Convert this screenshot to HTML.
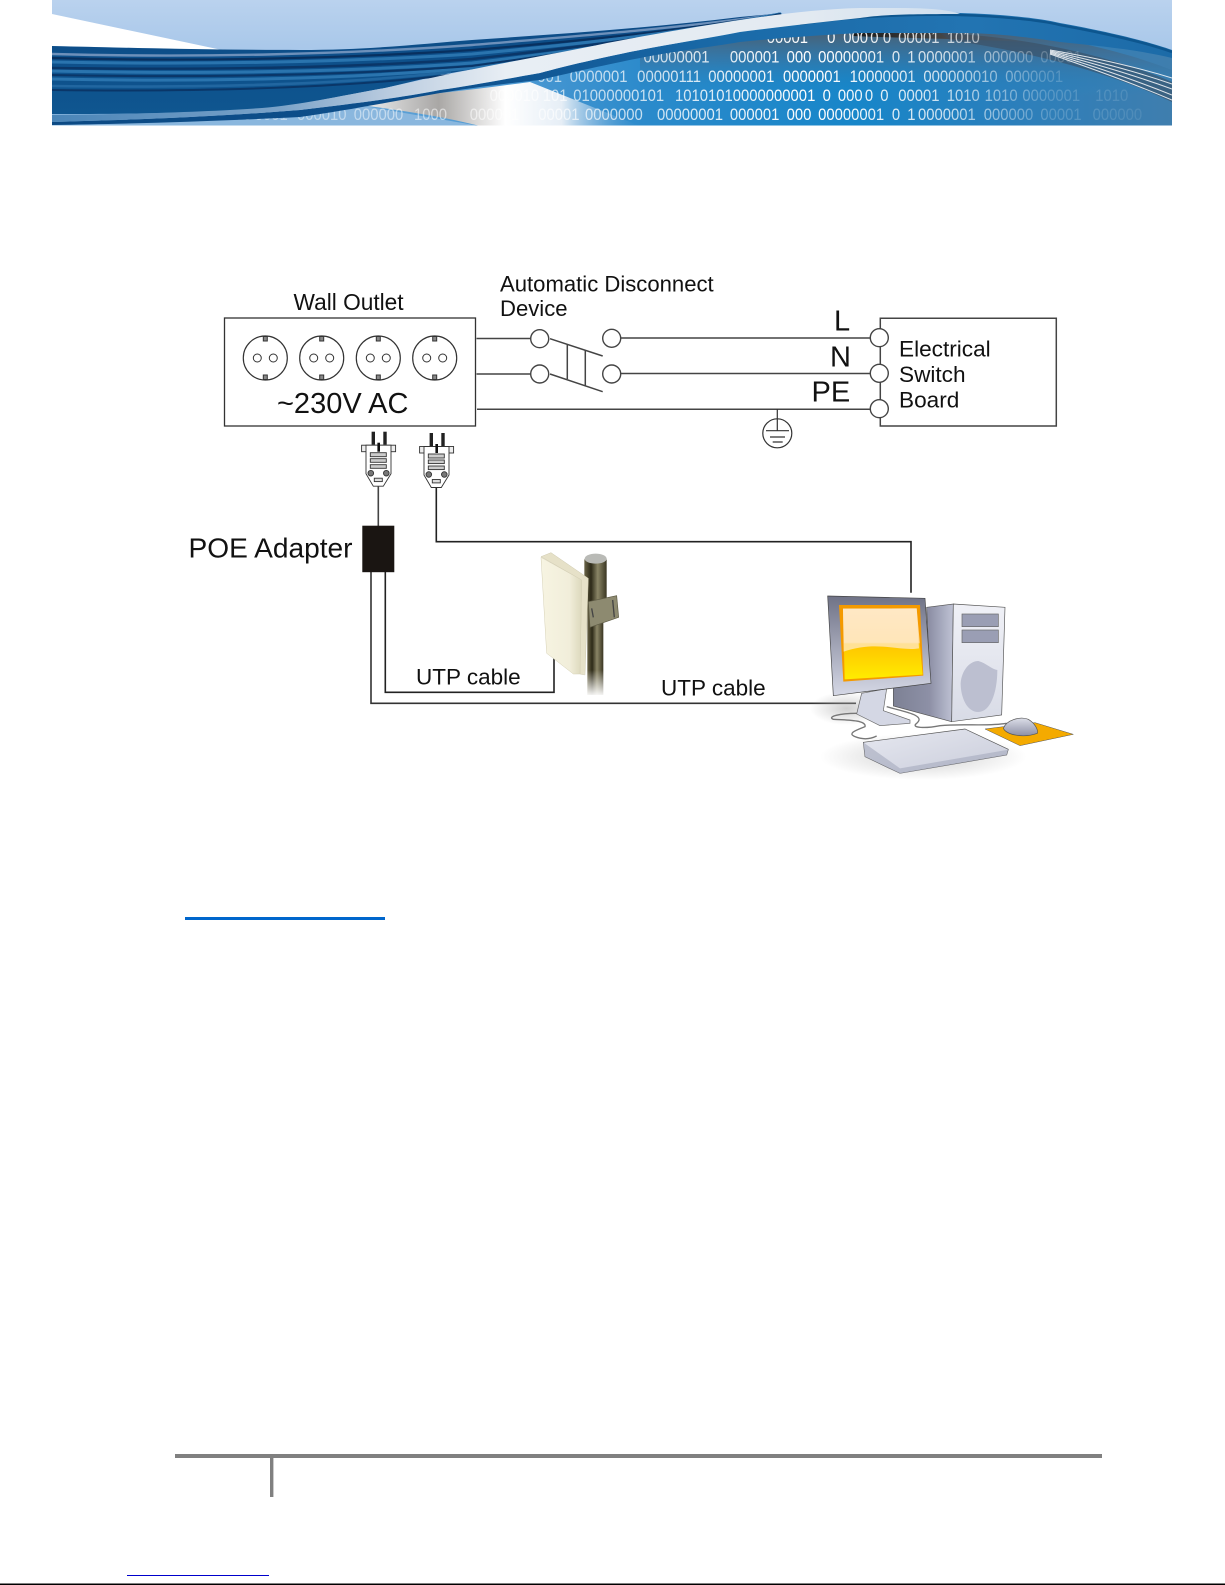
<!DOCTYPE html>
<html><head><meta charset="utf-8"><style>
html,body{margin:0;padding:0;background:#fff}
svg{display:block;position:absolute;left:0;top:0}
text{font-family:"Liberation Sans",sans-serif;fill:#111}
</style></head><body>
<svg width="1225" height="1585" viewBox="0 0 1225 1585" xmlns="http://www.w3.org/2000/svg">
<defs>
<linearGradient id="sky" x1="0" y1="0" x2="0" y2="1"><stop offset="0" stop-color="#bad2ee"/><stop offset=".45" stop-color="#a6c6e9"/><stop offset="1" stop-color="#a6c6e9"/></linearGradient>
<linearGradient id="body" gradientUnits="userSpaceOnUse" x1="52" y1="0" x2="1172" y2="0"><stop offset="0" stop-color="#85b3dc"/><stop offset=".4" stop-color="#4f9ad3"/><stop offset=".53" stop-color="#2b8acb"/><stop offset=".72" stop-color="#1786c9"/><stop offset=".85" stop-color="#2a7fbc"/><stop offset="1" stop-color="#3f7eae"/></linearGradient>
<linearGradient id="bodyv" gradientUnits="userSpaceOnUse" x1="0" y1="30" x2="0" y2="95"><stop offset="0" stop-color="#4f5c6a" stop-opacity=".95"/><stop offset=".45" stop-color="#3f6c92" stop-opacity=".55"/><stop offset="1" stop-color="#1786c9" stop-opacity="0"/></linearGradient>
<linearGradient id="blob" gradientUnits="userSpaceOnUse" x1="360" y1="0" x2="640" y2="0"><stop offset="0" stop-color="#eef0f2"/><stop offset=".28" stop-color="#a9a7a5"/><stop offset=".52" stop-color="#ffffff"/><stop offset=".72" stop-color="#e6eef6"/><stop offset="1" stop-color="#5a9fd6" stop-opacity="0"/></linearGradient>
<linearGradient id="dark" x1="0" y1="0" x2="0" y2="1"><stop offset="0" stop-color="#0c4a85"/><stop offset="1" stop-color="#0f5690"/></linearGradient>
<linearGradient id="white" gradientUnits="userSpaceOnUse" x1="52" y1="0" x2="960" y2="0"><stop offset="0" stop-color="#4a85b8"/><stop offset=".25" stop-color="#7aa2c8"/><stop offset=".37" stop-color="#b9cbdf"/><stop offset=".5" stop-color="#e8eef4"/><stop offset=".83" stop-color="#e3eaf1"/><stop offset="1" stop-color="#cfdfef"/></linearGradient>
<linearGradient id="crest" gradientUnits="userSpaceOnUse" x1="52" y1="0" x2="1172" y2="0"><stop offset="0" stop-color="#0c4a84"/><stop offset=".35" stop-color="#0d4f8c"/><stop offset=".6" stop-color="#1a6aa8"/><stop offset=".82" stop-color="#2274b2"/><stop offset="1" stop-color="#1c6ba8"/></linearGradient>
<linearGradient id="txt" gradientUnits="userSpaceOnUse" x1="255" y1="0" x2="1302" y2="0"><stop offset="0" stop-color="#fff" stop-opacity=".4"/><stop offset=".25" stop-color="#fff" stop-opacity=".55"/><stop offset=".45" stop-color="#fff" stop-opacity=".75"/><stop offset=".62" stop-color="#fff" stop-opacity="1"/><stop offset=".76" stop-color="#fff" stop-opacity=".75"/><stop offset=".87" stop-color="#fff" stop-opacity=".2"/><stop offset="1" stop-color="#fff" stop-opacity=".06"/></linearGradient>
<linearGradient id="streak" x1="0" y1="0" x2="1" y2="0"><stop offset="0" stop-color="#1b1b1b"/><stop offset=".5" stop-color="#444"/><stop offset="1" stop-color="#777" stop-opacity=".1"/></linearGradient>
<clipPath id="hclip"><rect x="52" y="0" width="1120" height="125.5"/></clipPath>

<linearGradient id="frame" x1="0" y1="0" x2="0" y2="1"><stop offset="0" stop-color="#6f7286"/><stop offset="1" stop-color="#d5d8e6"/></linearGradient>
<linearGradient id="scr" x1="0" y1="0" x2="0" y2="1"><stop offset="0" stop-color="#ffe2bb"/><stop offset=".48" stop-color="#ffd98a"/><stop offset=".5" stop-color="#ffc400"/><stop offset="1" stop-color="#ffec00"/></linearGradient>
<linearGradient id="front" x1="0" y1="0" x2="0" y2="1"><stop offset="0" stop-color="#f0f1f7"/><stop offset="1" stop-color="#d8dbe6"/></linearGradient>
<linearGradient id="side" x1="0" y1="0" x2="1" y2="0"><stop offset="0" stop-color="#7d8194"/><stop offset=".6" stop-color="#8d90a6"/><stop offset="1" stop-color="#bfc2d4"/></linearGradient>
<linearGradient id="kb" x1="0" y1="0" x2="1" y2="1"><stop offset="0" stop-color="#e6e8f0"/><stop offset="1" stop-color="#c9ccda"/></linearGradient>
<linearGradient id="ms" x1="0" y1="0" x2="0" y2="1"><stop offset="0" stop-color="#dcdee8"/><stop offset="1" stop-color="#8d90a6"/></linearGradient>
<radialGradient id="shade"><stop offset="0" stop-color="#aaa" stop-opacity=".55"/><stop offset="1" stop-color="#aaa" stop-opacity="0"/></radialGradient>

<linearGradient id="pole" x1="0" y1="0" x2="1" y2="0"><stop offset="0" stop-color="#6b6548"/><stop offset=".3" stop-color="#2d2a18"/><stop offset=".6" stop-color="#8a8566"/><stop offset="1" stop-color="#3a3622"/></linearGradient>
<linearGradient id="panel" x1="0" y1="0" x2="1" y2="0"><stop offset="0" stop-color="#f7f4e2"/><stop offset=".7" stop-color="#f1eeda"/><stop offset="1" stop-color="#dcd8bc"/></linearGradient>
<linearGradient id="fade" x1="0" y1="0" x2="0" y2="1"><stop offset="0" stop-color="#fff" stop-opacity="0"/><stop offset="1" stop-color="#fff"/></linearGradient>

<g id="plug" fill="none" stroke="#333" stroke-width=".9">
<rect x="-6.7" y="0" width="3.4" height="13" fill="#222" stroke="none"/>
<rect x="5" y="0" width="3.4" height="13" fill="#222" stroke="none"/>
<rect x="-16.7" y="13.5" width="34" height="6.5" fill="#eee"/>
<path d="M-12.3 13.5H12.7V42L5 54.5H-5L-12.3 42Z" fill="#fff"/>
<rect x="-.9" y="11" width="2.6" height="9" fill="#111" stroke="none"/>
<rect x="-8" y="21" width="16" height="4" fill="#ccc"/><rect x="-8" y="27" width="16" height="3.6" fill="#ccc"/><rect x="-8" y="33" width="16" height="3.6" fill="#ccc"/>
<circle cx="-7.5" cy="41.5" r="2.8" fill="#777"/><circle cx="8" cy="41.5" r="2.8" fill="#777"/>
<rect x="-4" y="46.5" width="8" height="3.4" fill="#ddd"/>
</g>
<g id="sock" fill="#fff" stroke="#333" stroke-width="1.2">
<circle r="22"/><circle cx="-8" r="4" stroke-width="1"/><circle cx="8" r="4" stroke-width="1"/>
<rect x="-2" y="-21.5" width="4" height="4.5" stroke-width="1" fill="#888"/><rect x="-2" y="17" width="4" height="4.5" stroke-width="1" fill="#888"/>
</g>
</defs>

<!-- header banner -->
<g clip-path="url(#hclip)">
<rect x="52" y="0" width="1120" height="126" fill="url(#sky)"/>
<path d="M52 14L222 50L52 46Z" fill="#fff"/>
<path id="arch" d="M52 126V110L300 105C400 95 470 85 540 73C600 62 670 44 740 30C790 22 830 15 860 15H960C1000 15 1040 20 1060 25C1110 34 1150 44 1172 52V126Z" fill="url(#body)"/>
<path d="M640 55C700 42 790 30 860 30H960C1040 30 1120 50 1172 70V100H640Z" fill="url(#bodyv)"/>
<path d="M52 126V118L352 104L480 126Z" fill="#8ab7de"/>
<path d="M352 104C390 98 420 95 440 93C470 90 500 86 530 82L640 126H480C440 116 400 110 352 104Z" fill="url(#blob)"/>
<path d="M853 32C900 30 960 32 1030 42C960 39 900 38 853 36Z" fill="url(#streak)"/>
<path d="M940 33C1020 36 1110 55 1172 82V102C1110 72 1030 52 950 40Z" fill="#3b4a5c" opacity=".55"/>
<g transform="scale(.9,1)" font-size="16.5" style="font-family:'Liberation Sans',sans-serif">
<text y="43" style="fill:url(#txt)"><tspan x="852">00001</tspan><tspan x="919">0</tspan><tspan x="937">000</tspan><tspan x="967">0</tspan><tspan x="981">0</tspan><tspan x="998">00001</tspan><tspan x="1052">1010</tspan></text>
<text y="62.5" style="fill:url(#txt)"><tspan x="715">00000001</tspan><tspan x="811">000001</tspan><tspan x="874">000</tspan><tspan x="909">00000001</tspan><tspan x="991">0</tspan><tspan x="1008">1</tspan><tspan x="1020">0000001</tspan><tspan x="1093">000000</tspan><tspan x="1156">00001</tspan></text>
<text y="82" style="fill:url(#txt)"><tspan x="597">001</tspan><tspan x="633">0000001</tspan><tspan x="708">00000111</tspan><tspan x="787">00000001</tspan><tspan x="870">0000001</tspan><tspan x="944">10000001</tspan><tspan x="1026">000000010</tspan><tspan x="1117">0000001</tspan></text>
<text y="101" style="fill:url(#txt)"><tspan x="544">000010</tspan><tspan x="603">101</tspan><tspan x="637">01000000101</tspan><tspan x="750">10101010000000001</tspan><tspan x="914">0</tspan><tspan x="931">000</tspan><tspan x="961">0</tspan><tspan x="978">0</tspan><tspan x="998">00001</tspan><tspan x="1052">1010</tspan><tspan x="1094">1010</tspan><tspan x="1136">0000001</tspan><tspan x="1217">1010</tspan></text>
<text y="120" style="fill:url(#txt)"><tspan x="261">00</tspan><tspan x="283">0001</tspan><tspan x="330">000010</tspan><tspan x="393">000000</tspan><tspan x="460">1000</tspan><tspan x="522">000001</tspan><tspan x="598">00001</tspan><tspan x="650">0000000</tspan><tspan x="730">00000001</tspan><tspan x="811">000001</tspan><tspan x="874">000</tspan><tspan x="909">00000001</tspan><tspan x="991">0</tspan><tspan x="1008">1</tspan><tspan x="1020">0000001</tspan><tspan x="1093">000000</tspan><tspan x="1156">00001</tspan><tspan x="1214">000000</tspan></text>
</g>
<g fill="none" stroke="#f0f3f6" stroke-width="1" opacity=".9">
<path d="M1050 50Q1120 62 1172 78"/><path d="M1050 51Q1120 66 1172 84"/><path d="M1050 52Q1120 70 1172 89"/><path d="M1050 53Q1120 74 1172 95"/><path d="M1050 54Q1120 78 1172 100"/>
</g>
<!-- lower stripe -->
<path d="M52 122C120 120 200 118 300 110C350 104 400 98 440 90C470 86 500 80 540 73C570 65 600 58 640 50C670 44 710 38 740 32C780 27 820 22 860 18C900 13 940 12 960 13C1000 14 1040 18 1060 23C1110 32 1150 42 1172 50V58C1140 50 1100 46 1060 42C1020 36 990 33 960 33H860C820 35 780 38 740 42C710 47 670 52 640 58C600 66 570 73 540 80C500 84 470 88 440 93C400 100 350 110 300 117C200 122 120 124 52 125Z" fill="url(#crest)"/>
<path d="M800 24C860 15 930 14 960 15C1000 16 1040 20 1060 25C1110 34 1150 44 1172 52" fill="none" stroke="#0d568f" stroke-width="2.5"/>
<!-- dark ribbon -->
<path d="M52 46C130 48 220 50 300 50C370 50 420 44 472 40C560 34 650 28 740 17L783 13C750 18 700 26 640 36L607 43C540 58 490 66 440 75L385 88C340 96 300 105 262 110C200 113 120 114 52 114Z" fill="url(#dark)"/>
<g fill="none" stroke-linecap="round">
<path d="M52 54C200 58 350 54 472 45C580 36 680 28 780 14" stroke="#6d90ba" stroke-width="2.4"/>
<path d="M52 58C200 62 350 58 472 50C580 41 680 31 780 14" stroke="#08305f" stroke-width="2.2"/>
<path d="M52 62C200 65 350 62 472 54C580 44 680 33 780 14" stroke="#2a74ae" stroke-width="3"/>
<path d="M52 68C200 70 350 68 472 59C580 47 680 35 780 14" stroke="#0a3668" stroke-width="2.4"/>
<path d="M52 71C200 74 350 72 472 63C580 50 680 37 780 14" stroke="#2a74ae" stroke-width="3"/>
<path d="M52 79C200 82 350 79 472 68C570 54 680 40 780 14" stroke="#2a74ae" stroke-width="3"/>
<path d="M52 75C200 78 350 75 472 66C570 52 680 38 780 14" stroke="#0a3668" stroke-width="2"/>
<path d="M52 86C200 88 340 85 450 72" stroke="#2166a0" stroke-width="2.6"/>
<path d="M52 90C200 92 340 88 450 75" stroke="#0a3668" stroke-width="2"/>
</g>
<!-- white ribbon -->
<path d="M52 115C150 114 220 111 262 108C300 105 340 96 385 88L440 76C500 63 560 53 607 43C660 33 700 26 740 20C780 14 820 9 860 8H900C930 8 950 10 960 14C900 14 880 15 860 18C820 22 780 27 740 32C710 38 670 44 640 50C600 58 570 65 540 73C500 80 470 86 440 90C400 98 350 104 300 110C200 118 120 120 52 122Z" fill="url(#white)"/>
</g>

<!-- wall outlet -->
<rect x="224.5" y="318" width="251" height="108" fill="#fff" stroke="#333" stroke-width="1.3"/>
<use href="#sock" x="265.3" y="358"/><use href="#sock" x="321.7" y="358"/><use href="#sock" x="378.3" y="358"/><use href="#sock" x="434.7" y="358"/>
<text x="277" y="413" font-size="29">~230V AC</text>
<text x="293.5" y="310" font-size="22.7">Wall Outlet</text>
<text x="500" y="291.7" font-size="22.1">Automatic Disconnect</text>
<text x="500" y="316" font-size="22.1">Device</text>

<!-- wires -->
<g fill="none" stroke="#444" stroke-width="1.5">
<path d="M476.5 338.5H530.5M476.5 374H530.5M477 409.3H870M620.7 338H870M620.7 373.5H870"/>
<path d="M550 338.7L602.7 356M550 374L602.7 391.7M567.3 344V379M585.3 350V386"/>
<path d="M880.3 318.3H1056.3V426H880.3Z"/>
</g>
<g fill="#fff" stroke="#444" stroke-width="1.4">
<circle cx="539.7" cy="338.7" r="9"/><circle cx="539.7" cy="374" r="9"/>
<circle cx="611.7" cy="338.3" r="9"/><circle cx="611.7" cy="374" r="9"/>
<circle cx="879.3" cy="337.7" r="9"/><circle cx="879.3" cy="373.3" r="9"/><circle cx="879.3" cy="408.7" r="9"/>
</g>
<g fill="none" stroke="#333" stroke-width="1.2">
<circle cx="777.3" cy="433.3" r="14.5"/>
<path d="M777.3 409V430.7M766 430.7H789M770 437H785M772.7 442H782.7"/>
</g>
<text x="834" y="330.7" font-size="29">L</text>
<text x="830" y="366.7" font-size="29">N</text>
<text x="811.5" y="401.7" font-size="29">PE</text>
<text x="899" y="356.5" font-size="22.6">Electrical</text>
<text x="899" y="382" font-size="22.6">Switch</text>
<text x="899" y="407.5" font-size="22.6">Board</text>

<!-- plugs -->
<use href="#plug" x="378.3" y="431.7"/>
<use href="#plug" x="436.3" y="433"/>
<g fill="none" stroke="#222" stroke-width="1.6">
<path d="M378.3 486V526" stroke="#444"/>
<path d="M436.3 488V541.7H911V592.7"/>
<path d="M371 572V703.3H856" stroke="#333"/>
<path d="M385.3 572V692.3H554V650.7"/>
</g>
<rect x="362.3" y="525.7" width="32" height="46.5" fill="#1a1512"/>
<text x="188.5" y="557.7" font-size="28.1">POE Adapter</text>
<text x="416" y="684.3" font-size="22.5">UTP cable</text>
<text x="661" y="695.5" font-size="22.5">UTP cable</text>

<!-- antenna -->
<g transform="translate(350,530) scale(.33333)">
<rect x="712" y="200" width="48" height="295" fill="url(#pole)"/>
<rect x="703" y="88" width="67" height="130" fill="url(#pole)"/>
<ellipse cx="737" cy="86" rx="33" ry="15" fill="#b9bab6"/>
<path d="M715 215L800 197L806 262L720 292Z" fill="#8d8a70" stroke="#5e5b45" stroke-width="2"/>
<path d="M725 235L730 262M788 210L793 262" stroke="#444" stroke-width="4"/>
<path d="M573 80L603 68L715 145L705 435L690 432L695 150Z" fill="#e6e1c8" stroke="#cfcab0" stroke-width="1.5"/>
<path d="M573 82L695 150L690 432L670 432L610 385L590 370Z" fill="url(#panel)" stroke="#d6d1b6" stroke-width="1.5"/>
<rect x="700" y="420" width="70" height="80" fill="url(#fade)"/>
</g>

<!-- computer -->
<g transform="translate(790,580) scale(.33333)">
<ellipse cx="400" cy="530" rx="310" ry="70" fill="url(#shade)"/>
<ellipse cx="170" cy="385" rx="110" ry="50" fill="url(#shade)"/>
<path d="M410 82L490 72L485 425L310 378V320L420 300Z" fill="url(#side)" stroke="#555" stroke-width="2"/>
<path d="M490 72L645 82L635 405L485 425Z" fill="url(#front)" stroke="#555" stroke-width="2"/>
<rect x="516" y="102" width="109" height="38" fill="#9a9eb4" stroke="#666" stroke-width="2"/>
<rect x="516" y="150" width="109" height="38" fill="#9a9eb4" stroke="#666" stroke-width="2"/>
<path d="M512 310C515 270 540 243 565 243C590 250 605 268 622 270C622 340 600 396 565 396C530 396 512 350 512 310Z" fill="#bcbfd0"/>
<path d="M215 340L290 326L280 392L360 420V430L270 437L200 402Z" fill="#d4d7e4" stroke="#666" stroke-width="2"/>
<path d="M200 400C150 400 110 410 130 418C170 420 230 420 225 440C200 450 170 460 195 470C220 480 240 478 260 468M290 380C340 395 410 405 380 430C360 445 410 445 450 437C520 430 590 440 650 430" fill="none" stroke="#777" stroke-width="4"/>
<path d="M113 48L405 55L423 310L130 347Z" fill="url(#frame)" stroke="#444" stroke-width="2"/>
<path d="M147 75L390 75L400 287L160 305Z" fill="#f49a00"/>
<path d="M159 86L380 85L398 284L164 298Z" fill="url(#scr)"/>
<path d="M159 86L380 85L387 205C330 215 260 180 161 215Z" fill="#ffe9c8" opacity=".75"/>
<path d="M220 487L525 447L655 508L650 525L330 580L225 530Z" fill="url(#kb)" stroke="#555" stroke-width="2"/>
<path d="M330 565L650 510L655 508L650 525L330 580L225 530L220 487Z" fill="#a9adc0" opacity=".65"/>
<path d="M585 447L735 428L850 463L690 497Z" fill="#f4aa00" stroke="#555" stroke-width="1.5"/>
<path d="M640 445C650 420 690 408 715 418C735 430 745 450 742 460C700 475 650 465 640 445Z" fill="url(#ms)" stroke="#555" stroke-width="2"/>
</g>

<!-- rules -->
<rect x="185" y="917" width="200" height="3" fill="#0066cc"/>
<rect x="175" y="1454" width="927" height="4" fill="#808080"/>
<rect x="270" y="1458" width="3.4" height="39" fill="#808080"/>
<rect x="127" y="1575" width="142" height="1" fill="#0000cc"/>
<rect x="0" y="1583.5" width="1225" height="1.5" fill="#000"/>
</svg>
</body></html>
